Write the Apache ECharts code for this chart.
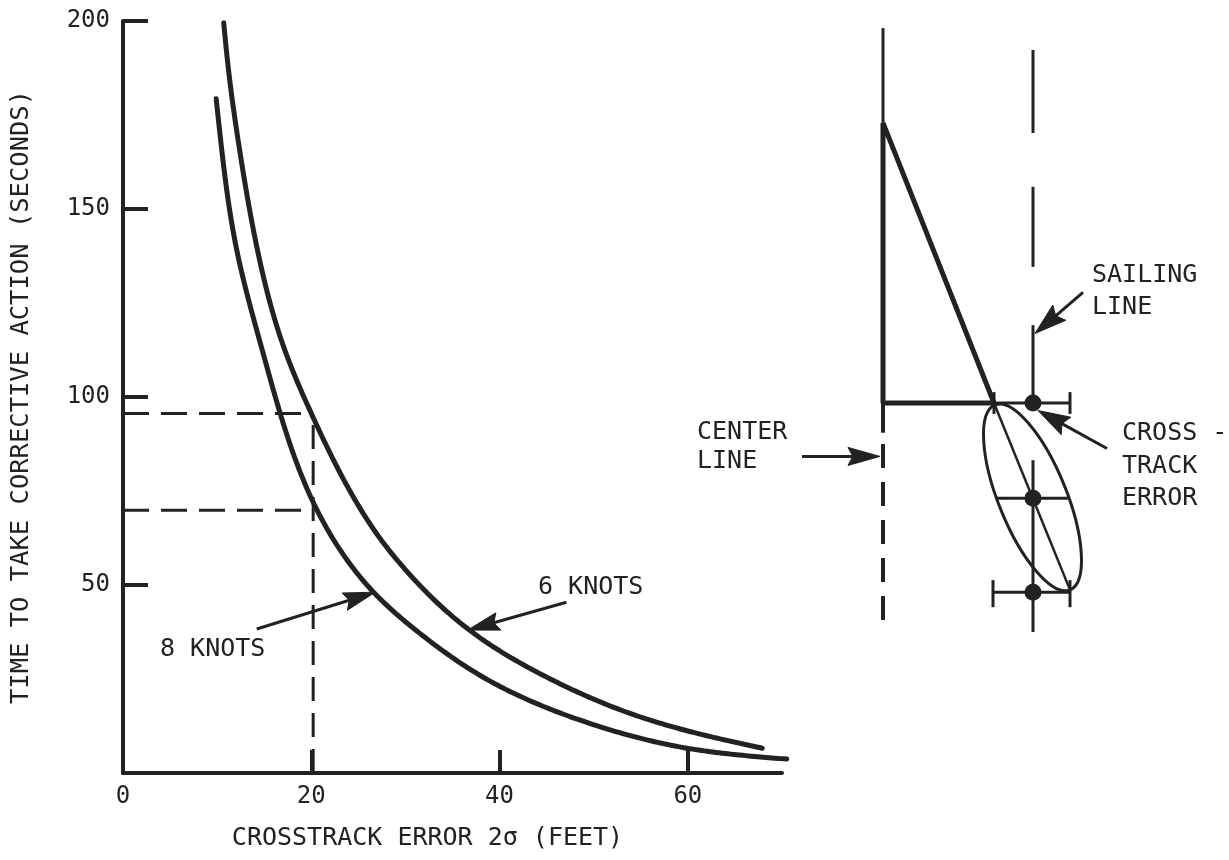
<!DOCTYPE html>
<html><head><meta charset="utf-8">
<script src="https://cdn.jsdelivr.net/npm/echarts@6/dist/echarts.min.js"></script>
<style>html,body{margin:0;padding:0;background:#fff}#c{width:1229px;height:860px}</style>
</head><body><div id="c"></div>
<script>
// ---- Left chart data: [crosstrack error 2σ (ft), time (s)] ----
const sixKnots = [[10.7,199.5],[11.1,189.4],[12.4,165.5],[14.3,138.9],[17.2,112.4],[20.1,95.1],[25.3,69.9],[27.3,62.4],[29.4,55.8],[36.8,38.0],[45.0,25.5],[53.8,15.9],[60.9,10.6],[67.9,6.6]];
const eightKnots = [[9.9,179.3],[10.5,165.5],[12.1,138.9],[14.8,112.4],[16.7,95.6],[20.4,71.0],[26.8,47.6],[31.5,37.2],[37.9,26.0],[48.5,14.1],[59.9,6.6],[70.5,3.7]];
const guideVertical = [[20.2,0],[20.2,95.6]];
const guideSix = [[0,95.6],[20.2,95.6]];
const guideEight = [[0,69.9],[20.2,69.9]];
const arrowEight = [14.2,38.3,26.8,48.1];
const arrowSix = [47.1,45.4,36.6,38.0];
const xTickValues = [0,20,40,60];
const yTickValues = [50,100,150,200];

// ---- Right schematic data (diagram units: x arbitrary, y on seconds scale) ----
const triangle = [[304,98.4],[193,98.4],[193,172.9],[304,98.4]];
const centerTop = [[193,198.1],[193,172.9]];
const centerSolid = [[193,98.4],[193,90.5]];
const centerDashed = [[193,87.5],[193,38.0]];
const sailingSegments = [[[343,192.3],[343,170.2]],[[343,155.9],[343,134.6]],[[343,119.1],[343,98.4]],[[343,83.2],[343,37.5]]];
const errorBars = [[[304,98.4],[380,98.4]],[[307,73.1],[378,73.1]],[[303,48.1],[380,48.1]]];
const errorCaps = [[[304,101.3],[304,95.5]],[[380,101.3],[380,95.5]],[[303,51.3],[303,44.1]],[[380,51.3],[380,44.1]]];
const trackLine = [[304,98.4],[380,48.7]];
const ellipseTips = [[305,97.9,380,48.7]];
const fixDots = [[343,98.4],[343,73.1],[343,48.1]];
const arrowCenter = [112,84.2,190,84.2];
const arrowSailing = [393,127.8,345,116.9];
const arrowCross = [417,86.3,348,96.4];

const INK = '#222';
const FONT = 'DejaVu Sans Mono';

function seg(data, gi, w, dash) {
  return {type:'line', xAxisIndex:gi, yAxisIndex:gi, data:data, symbol:'none', showSymbol:false,
    lineStyle:{color:INK, width:w, type:dash||'solid', cap:'butt'}, silent:true, animation:false, clip:false, z:3};
}
// natural cubic spline through pixel points (chord-length parametrised)
function splineCoeffs(t, v) {
  const n = v.length, M = new Array(n).fill(0);
  if (n < 3) return M;
  const a = [], b = [], c = [], d = [];
  for (let i = 1; i < n-1; i++) {
    const h0 = t[i]-t[i-1], h1 = t[i+1]-t[i];
    a.push(h0); b.push(2*(h0+h1)); c.push(h1);
    d.push(6*((v[i+1]-v[i])/h1 - (v[i]-v[i-1])/h0));
  }
  const m = b.length;
  for (let i = 1; i < m; i++) { const w = a[i]/b[i-1]; b[i] -= w*c[i-1]; d[i] -= w*d[i-1]; }
  const x = new Array(m);
  x[m-1] = d[m-1]/b[m-1];
  for (let i = m-2; i >= 0; i--) x[i] = (d[i]-c[i]*x[i+1])/b[i];
  for (let i = 0; i < m; i++) M[i+1] = x[i];
  return M;
}
function curveSeries(points, name) {
  return {type:'custom', name:name, xAxisIndex:0, yAxisIndex:0, data:points, silent:true, animation:false, clip:false, z:3,
    renderItem: function(params, api){
      if (params.dataIndex !== 0) return null;
      const P = points.map(p => api.coord(p));
      const t = [0];
      for (let i = 1; i < P.length; i++) t.push(t[i-1] + Math.hypot(P[i][0]-P[i-1][0], P[i][1]-P[i-1][1]));
      const xs = P.map(p => p[0]), ys = P.map(p => p[1]);
      const Mx = splineCoeffs(t, xs), My = splineCoeffs(t, ys);
      const out = [P[0]];
      for (let i = 0; i < P.length-1; i++) {
        const h = t[i+1]-t[i];
        const steps = Math.max(4, Math.ceil(h/3));
        for (let k = 1; k <= steps; k++) {
          const s = h*k/steps;
          const ev = (v, M) => M[i]*Math.pow(h-s,3)/(6*h) + M[i+1]*Math.pow(s,3)/(6*h) + (v[i]/h - M[i]*h/6)*(h-s) + (v[i+1]/h - M[i+1]*h/6)*s;
          out.push([ev(xs, Mx), ev(ys, My)]);
        }
      }
      return {type:'polyline', shape:{points:out}, style:{stroke:INK, lineWidth:5, fill:null, lineCap:'round', lineJoin:'round'}};
    }};
}
function arrowSeries(arr, gi, L, W) {
  return {type:'custom', xAxisIndex:gi, yAxisIndex:gi, data:[arr], silent:true, animation:false, clip:false, z:5,
    renderItem: function(params, api){
      const a = api.coord([api.value(0), api.value(1)]);
      const b = api.coord([api.value(2), api.value(3)]);
      const dx = b[0]-a[0], dy = b[1]-a[1];
      const len = Math.sqrt(dx*dx+dy*dy);
      const ux = dx/len, uy = dy/len, nx = -uy, ny = ux;
      const bx = b[0]-ux*L, by = b[1]-uy*L;
      const mx = b[0]-ux*L*0.85, my = b[1]-uy*L*0.85;
      return {type:'group', children:[
        {type:'line', shape:{x1:a[0], y1:a[1], x2:mx, y2:my}, style:{stroke:INK, lineWidth:3}},
        {type:'polygon', shape:{points:[[b[0],b[1]],[bx+nx*W,by+ny*W],[mx,my],[bx-nx*W,by-ny*W]]}, style:{fill:INK, stroke:INK, lineWidth:1}}
      ]};
    }};
}

const series = [];
series.push(curveSeries(sixKnots, '6 KNOTS'));
series.push(curveSeries(eightKnots, '8 KNOTS'));
series.push(seg(guideVertical,0,3,[24,12]));
series.push(seg(guideSix,0,3,[26,12]));
series.push(seg(guideEight,0,3,[26,12]));
series.push(arrowSeries(arrowEight,0,32,9));
series.push(arrowSeries(arrowSix,0,32,9));
series.push(seg(triangle,1,5));
series.push(seg(centerTop,1,3));
series.push(seg(centerSolid,1,4));
series.push(seg(centerDashed,1,4,[24,14]));
sailingSegments.forEach(s => series.push(seg(s,1,3)));
errorBars.forEach(s => series.push(seg(s,1,3)));
errorCaps.forEach(s => series.push(seg(s,1,3)));
series.push(seg(trackLine,1,2.5));
series.push({type:'custom', xAxisIndex:1, yAxisIndex:1, data:ellipseTips, silent:true, animation:false, clip:false, z:4,
  renderItem: function(params, api){
    const a = api.coord([api.value(0), api.value(1)]);
    const b = api.coord([api.value(2), api.value(3)]);
    const dx = b[0]-a[0], dy = b[1]-a[1];
    const half = Math.sqrt(dx*dx+dy*dy)/2;
    return {type:'ellipse', x:(a[0]+b[0])/2, y:(a[1]+b[1])/2, rotation:Math.atan2(dx,dy),
      shape:{cx:0, cy:0, rx:34, ry:half}, style:{fill:'none', stroke:INK, lineWidth:3}};
  }});
series.push({type:'scatter', xAxisIndex:1, yAxisIndex:1, data:fixDots, symbol:'circle', symbolSize:17,
  itemStyle:{color:INK, opacity:1}, silent:true, animation:false, z:6});
series.push(arrowSeries(arrowCenter,1,32,9));
series.push(arrowSeries(arrowSailing,1,32,10));
series.push(arrowSeries(arrowCross,1,32,10));

const txt = (t, x, y, size) => ({type:'text', x:x, y:y, silent:true,
  style:{text:t, font:(size||25)+'px "'+FONT+'"', fill:INK, textAlign:'left', textVerticalAlign:'middle'}});

const option = {
  backgroundColor:'#fff',
  animation:false,
  grid:[
    {left:123, top:21, width:659, height:752},
    {left:690, top:21, width:539, height:752}
  ],
  xAxis:[
    {gridIndex:0, type:'value', min:0, max:70, interval:20,
     axisLine:{show:true, onZero:false, lineStyle:{color:INK, width:4}},
     axisTick:{show:true, inside:true, length:23, customValues:[20,40,60], lineStyle:{color:INK, width:4}},
     axisLabel:{color:INK, fontFamily:FONT, fontSize:24, margin:12, customValues:xTickValues},
     splitLine:{show:false},
     name:'CROSSTRACK ERROR 2σ (FEET)', nameLocation:'middle', nameGap:53,
     nameTextStyle:{color:INK, fontFamily:FONT, fontSize:25, padding:[0,50,0,0]}},
    {gridIndex:1, type:'value', min:0, max:539, show:false}
  ],
  yAxis:[
    {gridIndex:0, type:'value', min:0, max:200, interval:50,
     axisLine:{show:true, onZero:false, lineStyle:{color:INK, width:4}},
     axisTick:{show:true, inside:true, length:25, customValues:yTickValues, lineStyle:{color:INK, width:4}},
     axisLabel:{color:INK, fontFamily:FONT, fontSize:24, margin:13, customValues:yTickValues},
     splitLine:{show:false},
     name:'TIME TO TAKE CORRECTIVE ACTION (SECONDS)', nameLocation:'middle', nameGap:89,
     nameTextStyle:{color:INK, fontFamily:FONT, fontSize:25.5}},
    {gridIndex:1, type:'value', min:0, max:200, show:false}
  ],
  graphic:[
    txt('8 KNOTS',160,649),
    txt('6 KNOTS',538,587),
    txt('CENTER',697,432),
    txt('LINE',697,461),
    txt('SAILING',1092,275),
    txt('LINE',1092,307),
    txt('CROSS -',1122,433),
    txt('TRACK',1122,466),
    txt('ERROR',1122,498)
  ],
  series:series
};
const chart = echarts.init(document.getElementById('c'), null, {renderer:'canvas'});
chart.setOption(option);
</script></body></html>
